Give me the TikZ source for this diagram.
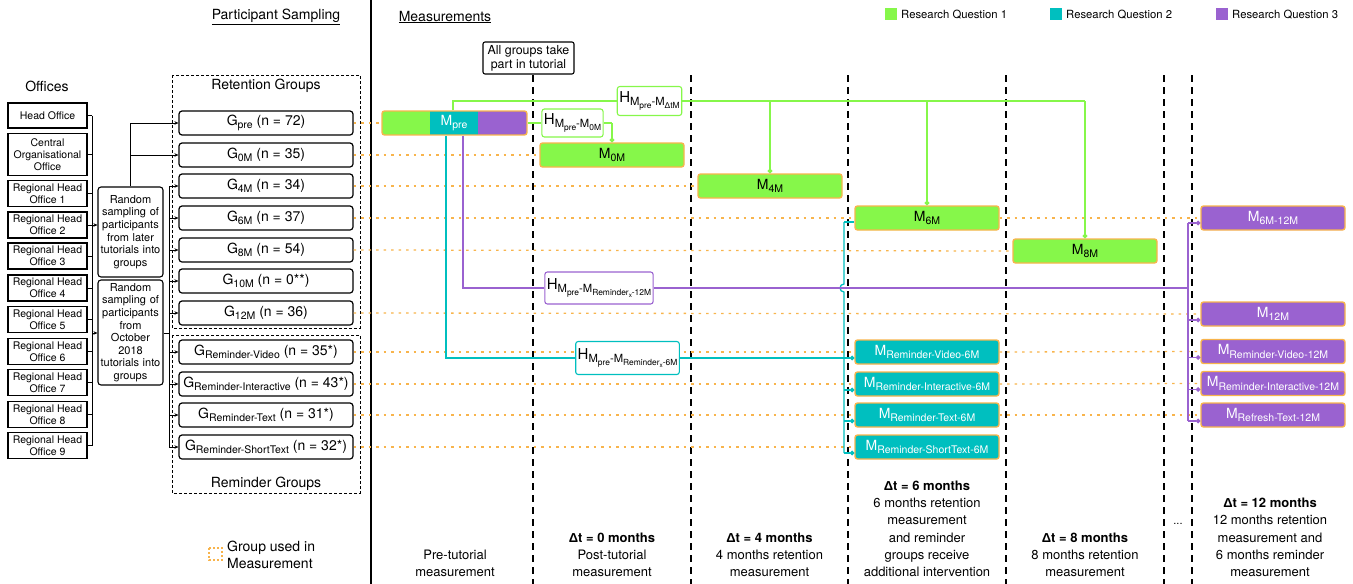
\documentclass[tikz,border=0pt]{standalone}
\usepackage{fontspec}
\setmainfont{TeX Gyre Heros}
\newfontfamily\lib{Liberation Sans}
\usepackage{graphicx}
\usetikzlibrary{arrows.meta}
\definecolor{rqgreen}{HTML}{86F74A}
\definecolor{rqcyan}{HTML}{00BFBF}
\definecolor{rqpurple}{HTML}{9A62D0}
\definecolor{orangeb}{HTML}{F8B44C}
\newcommand{\sbs}[1]{\raisebox{-0.45ex}{\scalebox{0.75}{#1}}}
\newcommand{\fs}[2]{\fontsize{#1}{#2}\selectfont}
\newcommand{\dT}{{\lib\bfseries Δ}}
\begin{document}
\begin{tikzpicture}[x=1pt,y=-1pt,
  office/.style={draw, line width=1.1pt, minimum width=79pt, minimum height=26pt, inner sep=0pt, align=center, font=\fs{10.5}{12.3}},
  samp/.style={draw, line width=1.1pt, rounded corners=3pt, minimum width=65pt, text width=63pt, inner sep=0pt, align=center, font=\fs{11}{12.6}},
  gbox/.style={draw, line width=1.2pt, rounded corners=3pt, minimum width=174pt, minimum height=24pt, inner sep=0pt, font=\fs{14}{16}},
  mbox/.style={draw=orangeb, line width=1.4pt, rounded corners=2.5pt, minimum width=144pt, minimum height=24pt, inner sep=0pt, font=\fs{14}{16}},
  mg/.style={mbox, fill=rqgreen, text=black},
  mc/.style={mbox, fill=rqcyan, text=white},
  mp/.style={mbox, fill=rqpurple, text=white},
  hbox/.style={draw, fill=white, line width=1.1pt, rounded corners=2.5pt, inner xsep=2pt, inner ysep=0pt, font=\fs{15}{17}},
  conn/.style={line width=0.7pt},
  arr/.style={conn, -{Stealth[length=4pt,width=3.5pt]}},
  gl/.style={rqgreen, line width=1.6pt},
  cl/.style={rqcyan, line width=1.3pt},
  pl/.style={rqpurple, line width=1.3pt},
  dotend/.style={-{Circle[length=4.5pt]}},
  odot/.style={orangeb, line width=1.3pt, dash pattern=on 2.5pt off 5pt},
  vdash/.style={line width=1.5pt, dash pattern=on 7pt off 5pt},
  lbl/.style={font=\fs{13}{17.3}, align=center, inner sep=0pt, anchor=south},
  ttl/.style={font=\fs{14}{16}, inner sep=0pt},
  leg/.style={font=\fs{11.3}{13}, inner sep=0pt, anchor=west}
]
\useasboundingbox (0,0) rectangle (1353,584);

% separator and headers
\draw[line width=2pt] (371,0) -- (371,584);
\node[ttl] (hps) at (276,17) {\underline{Participant Sampling}};
\node[ttl] (hms) at (445,17) {\underline{Measurements}};

% legend
\fill[rqgreen] (885,8) rectangle (897,20);
\node[leg] (l1) at (901,14.5) {Research Question 1};
\fill[rqcyan] (1050,8) rectangle (1062,20);
\node[leg] (l2) at (1066,14.5) {Research Question 2};
\fill[rqpurple] (1216,8) rectangle (1228,20);
\node[leg] (l3) at (1232,14.5) {Research Question 3};

\draw[orangeb, line width=1.2pt, dash pattern=on 2pt off 2pt] (209,548) rectangle (222,560);
\node[font=\fs{14}{17}, align=left, inner sep=0pt, anchor=west] (lgu) at (227,554.5) {Group used in\\Measurement};

% offices
\node[ttl] (offt) at (47,86) {Offices};
\node[office, minimum height=25pt] (o1) at (47.5,115.5) {Head Office};
\node[office, minimum height=42pt] (o2) at (47.5,154.5) {Central\\Organisational\\Office};
\node[office] (o3) at (47.5,193.5) {Regional Head\\Office 1};
\node[office] (o4) at (47.5,225) {Regional Head\\Office 2};
\node[office] (o5) at (47.5,256) {Regional Head\\Office 3};
\node[office] (o6) at (47.5,288) {Regional Head\\Office 4};
\node[office] (o7) at (47.5,319.5) {Regional Head\\Office 5};
\node[office] (o8) at (47.5,351.5) {Regional Head\\Office 6};
\node[office] (o9) at (47.5,382.5) {Regional Head\\Office 7};
\node[office] (o10) at (47.5,414.5) {Regional Head\\Office 8};
\node[office] (o11) at (47.5,445.5) {Regional Head\\Office 9};

\coordinate (bk) at (92,0);
\foreach \o in {o1,o2,o3,o4,o5,o6,o7,o8,o9,o10,o11}
  \draw[conn] (\o.east) -- (bk |- \o.east);
\draw[conn] (bk |- o1.east) -- (bk |- o11.east);

\node[samp, minimum height=90pt] (samp1) at (130.5,232) {Random\\sampling of\\participants\\from later\\tutorials into\\groups};
\node[samp, minimum height=105pt] (samp2) at (130.5,332.5) {Random\\sampling of\\participants\\from\\October\\2018\\tutorials into\\groups};
\coordinate (s2in) at (92,333);
\draw[arr] (bk |- o4.east) -- (samp1.west |- o4.east);
\draw[arr] (s2in) -- (samp2.west |- s2in);

% group frames
\draw[line width=0.9pt, dash pattern=on 3pt off 2pt] (172,75) rectangle (360,328);
\draw[line width=0.9pt, dash pattern=on 3pt off 2pt] (172,335) rectangle (360,493);
\node[ttl] (rett) at (266,86) {Retention Groups};
\node[ttl] (remt) at (266,484) {Reminder Groups};

% groups
\node[gbox] (gpre) at (266,123) {G\sbs{pre} (n = 72)};
\node[gbox] (g0m) at (266,155) {G\sbs{0M} (n = 35)};
\node[gbox] (g4m) at (266,186) {G\sbs{4M} (n = 34)};
\node[gbox] (g6m) at (266,218) {G\sbs{6M} (n = 37)};
\node[gbox] (g8m) at (266,250) {G\sbs{8M} (n = 54)};
\node[gbox] (g10m) at (266,281) {G\sbs{10M} (n = 0**)};
\node[gbox] (g12m) at (266,313) {G\sbs{12M} (n = 36)};
\node[gbox] (grv) at (266,352) {G\sbs{Reminder-Video} (n = 35*)};
\node[gbox] (gri) at (266,384) {G\sbs{Reminder-Interactive} (n = 43*)};
\node[gbox] (grt) at (266,415) {G\sbs{Reminder-Text} (n = 31*)};
\node[gbox] (grs) at (266,447) {G\sbs{Reminder-ShortText} (n = 32*)};

% sampling connectors
\draw[conn] (samp1.north) -- (samp1.north |- gpre.west);
\draw[arr] (samp1.north |- gpre.west) -- (gpre.west);
\draw[arr] (samp1.north |- g0m.west) -- (g0m.west);
\coordinate (bk2) at (169,333);
\draw[conn] (samp2.east |- bk2) -- (bk2);
\draw[conn] (bk2 |- g4m.west) -- (bk2 |- grs.west);
\foreach \g in {g4m,g6m,g8m,g10m,g12m,grv,gri,grt,grs}
  \draw[arr] (bk2 |- \g.west) -- (\g.west);

% dashed time separators
\foreach \x in {533,691,848,1006,1164,1192}
  \draw[vdash] (\x,75) -- (\x,584);
\node[draw, line width=1.1pt, rounded corners=2pt, minimum width=91pt, minimum height=32pt, inner sep=0pt, align=center, font=\fs{12.4}{14}, fill=white] (allg) at (528.5,58) {All groups take\\part in tutorial};

% measurement boxes
\node[mg] (m0m) at (612,155) {M\sbs{0M}};
\node[mg] (m4m) at (770,186) {M\sbs{4M}};
\node[mg] (m6m) at (927,218) {M\sbs{6M}};
\node[mg] (m8m) at (1085,251) {M\sbs{8M}};
\node[mp] (m6m12) at (1273,218) {M\sbs{6M-12M}};
\node[mp] (m12) at (1273,314) {M\sbs{12M}};
\node[mp] (mrv12) at (1273,351.5) {M\sbs{Reminder-Video-12M}};
\node[mp] (mri12) at (1273,383.5) {M\sbs{Reminder-Interactive-12M}};
\node[mp] (mrt12) at (1273,415) {M\sbs{Refresh-Text-12M}};
\node[mc] (mrv6) at (927,352) {M\sbs{Reminder-Video-6M}};
\node[mc] (mri6) at (927,384) {M\sbs{Reminder-Interactive-6M}};
\node[mc] (mrt6) at (927,415) {M\sbs{Reminder-Text-6M}};
\node[mc] (mrs6) at (927,447) {M\sbs{Reminder-ShortText-6M}};

\begin{scope}
\clip[rounded corners=2.5pt] (382,111) rectangle (527,135);
\fill[rqgreen] (382,111) rectangle (430,135);
\fill[rqcyan] (430,111) rectangle (478,135);
\fill[rqpurple] (478,111) rectangle (527,135);
\end{scope}
\node[mbox, minimum width=145pt] (mpre) at (454.5,123) {};
\node[text=white, font=\fs{14}{16}, inner sep=0pt] (mpret) at (454,123) {M\sbs{pre}};

% orange dotted group usage lines
\draw[odot] (gpre.east) -- (mpre.west);
\draw[odot] (g0m.east) -- (m0m.west);
\draw[odot] (g4m.east) -- (m4m.west);
\draw[odot] (g6m.east) -- (m6m.west);
\draw[odot] (m6m.east) -- (m6m12.west);
\draw[odot] (g8m.east) -- (m8m.west);
\draw[odot] (g12m.east) -- (m12.west);
\draw[odot] (grv.east) -- (mrv6.west);
\draw[odot] (mrv6.east) -- (mrv12.west);
\draw[odot] (gri.east) -- (mri6.west);
\draw[odot] (mri6.east) -- (mri12.west);
\draw[odot] (grt.east) -- (mrt6.west);
\draw[odot] (mrt6.east) -- (mrt12.west);
\draw[odot] (grs.east) -- (mrs6.west);

% hypothesis boxes
\node[hbox, draw=rqgreen, minimum height=29pt] (hdt) at (649.5,101) {H\sbs{M\sbs{pre}-M\sbs{{\lib Δ}tM}}};
\node[hbox, draw=rqgreen, minimum height=28pt] (h0m) at (572.5,123) {H\sbs{M\sbs{pre}-M\sbs{0M}}};
\node[hbox, draw=rqpurple, minimum height=32pt] (h12) at (599,288) {H\sbs{M\sbs{pre}-M\sbs{Reminder\sbs{x}-12M}}};
\node[hbox, draw=rqcyan, minimum height=33pt] (h6) at (627.5,358) {H\sbs{M\sbs{pre}-M\sbs{Reminder\sbs{x}-6M}}};

% green connectors (RQ1)
\coordinate (gtop) at (453,101);
\draw[gl] (gtop |- mpre.north) -- (gtop) -- (hdt.west);
\draw[gl] (hdt.east) -- (m8m.north |- hdt.east);
\draw[gl, dotend] (m8m.north |- hdt.east) -- (m8m.north);
\draw[gl, dotend] (m4m.north |- hdt.east) -- (m4m.north);
\draw[gl, dotend] (m6m.north |- hdt.east) -- (m6m.north);
\draw[gl] (mpre.east) -- (h0m.west);
\coordinate (g0c) at (612,123);
\draw[gl] (h0m.east) -- (g0c);
\draw[gl, dotend] (g0c) -- (m0m.north);

% cyan connectors (RQ2)
\coordinate (cx) at (446,0);
\coordinate (cv) at (844,0);
\draw[cl] (cx |- mpre.south) -- (cx |- h6.west) -- (h6.west);
\draw[cl, dotend] (h6.east) -- ([yshift=-6pt]mrv6.west);
\draw[cl] (cv |- m6m.west) ++(0,4) coordinate (ctop) -- (844,284) arc[start angle=270, end angle=90, radius=4] -- (844,453);
\draw[cl] (ctop) -- ([yshift=-4pt]m6m.west);
\draw[cl, dotend] (cv |- mri6.west) ++(0,6) -- ([yshift=-6pt]mri6.west);
\draw[cl, dotend] (cv |- mrt6.west) ++(0,6) -- ([yshift=-6pt]mrt6.west);
\draw[cl, dotend] (cv |- mrs6.west) ++(0,6) -- ([yshift=-6pt]mrs6.west);

% purple connectors (RQ3)
\coordinate (px) at (463,0);
\coordinate (pv) at (1188,0);
\draw[pl] (px |- mpre.south) -- (px |- h12.west) -- (h12.west);
\draw[pl] (h12.east) -- (pv |- h12.east);
\draw[pl] (pv |- m6m12.west) ++(0,5) -- (1188,421);
\draw[pl, dotend] (pv |- m6m12.west) ++(0,5) -- ([yshift=-5pt]m6m12.west);
\draw[pl, dotend] (pv |- m12.west) ++(0,6) -- ([yshift=-6pt]m12.west);
\draw[pl, dotend] (pv |- mrv12.west) ++(0,6) -- ([yshift=-6pt]mrv12.west);
\draw[pl, dotend] (pv |- mri12.west) ++(0,6) -- ([yshift=-6pt]mri12.west);
\draw[pl, dotend] (pv |- mrt12.west) ++(0,6) -- ([yshift=-6pt]mrt12.west);

% bottom labels
\node[lbl] (b0) at (455,577) {Pre-tutorial\\measurement};
\node[lbl] (b1) at (612,577) {\textbf{\dT t = 0 months}\\Post-tutorial\\measurement};
\node[lbl] (b2) at (769.5,577) {\textbf{\dT t = 4 months}\\4 months retention\\measurement};
\node[lbl] (b3) at (927,577) {\textbf{\dT t = 6 months}\\6 months retention\\measurement\\and reminder\\groups receive\\additional intervention};
\node[lbl] (b4) at (1085,577) {\textbf{\dT t = 8 months}\\8 months retention\\measurement};
\node[font=\fs{11}{13}, inner sep=0pt] (bdots) at (1178,524) {...};
\node[lbl] (b5) at (1270,577) {\textbf{\dT t = 12 months}\\12 months retention\\measurement and\\6 months reminder\\measurement};
\end{tikzpicture}
\end{document}
